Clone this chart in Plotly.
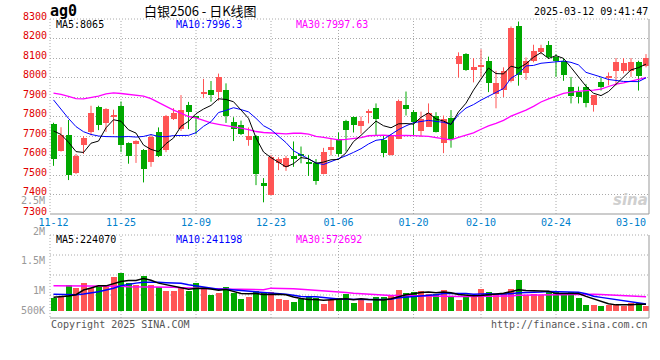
import plotly.graph_objects as go

W, H = 660, 360
def px(x): return x / W
def py(y): return 1 - y / H

# ---------------- data ----------------
tick_idx = [0, 9, 19, 29, 38, 48, 57, 67, 77]
tick_text = ["11-12", "11-25", "12-09", "12-23", "01-06", "01-20", "02-10", "02-24", "03-10"]
grid_idx = [9, 19, 29, 38, 48, 57, 67]
price_ticks = [7300, 7400, 7500, 7600, 7700, 7800, 7900, 8000, 8100, 8200, 8300]
vol_tick_text = ["2.5M", "2M", "1.5M", "1M", "500K"]

opens = [7760, 7625, 7703, 7512, 7653, 7718, 7850, 7765, 7802, 7855,
         7663, 7658, 7630, 7567, 7718, 7630, 7785, 7735, 7860, 7800,
         7916, 7937, 7924, 7935, 7774, 7754, 7680, 7700, 7461, 7400,
         7563, 7542, 7595, 7607, 7565, 7560, 7503, 7630, 7686, 7777,
         7795, 7751, 7822, 7842, 7677, 7603, 7686, 7858, 7822, 7726,
         7747, 7805, 7665, 7791, 8069, 8122, 8040, 8052, 8086, 7913,
         7938, 7983, 8262, 8021, 8083, 8131, 8165, 8103, 8086, 7953,
         7925, 7953, 7858, 7978, 8000, 8031, 8034, 8034, 8081, 8057]
highs = [7768, 7745, 7782, 7608, 7700, 7855, 7855, 7843, 7835, 7877,
         7667, 7678, 7633, 7708, 7744, 7808, 7843, 7910, 7875, 7803,
         7993, 7982, 8020, 7970, 7796, 7779, 7744, 7705, 7484, 7603,
         7591, 7598, 7672, 7646, 7603, 7582, 7639, 7684, 7718, 7783,
         7800, 7800, 7837, 7867, 7700, 7709, 7887, 7928, 7833, 7825,
         7867, 7822, 7805, 7833, 8129, 8125, 8100, 8145, 8107, 8034,
         8052, 8262, 8287, 8103, 8168, 8168, 8187, 8120, 8100, 8003,
         7953, 7967, 7908, 8000, 8026, 8100, 8100, 8100, 8086, 8120]
lows = [7547, 7620, 7474, 7505, 7608, 7703, 7730, 7721, 7709, 7617,
        7558, 7562, 7462, 7542, 7592, 7617, 7782, 7726, 7735, 7709,
        7894, 7876, 7881, 7767, 7674, 7705, 7650, 7448, 7360, 7397,
        7525, 7521, 7542, 7560, 7495, 7450, 7503, 7600, 7595, 7621,
        7718, 7712, 7765, 7704, 7591, 7600, 7684, 7805, 7700, 7695,
        7747, 7718, 7612, 7640, 8000, 8034, 7975, 8000, 7925, 7842,
        7900, 7975, 7958, 7988, 8078, 8119, 8095, 8003, 7983, 7867,
        7867, 7847, 7825, 7933, 7960, 7960, 8021, 8003, 7933, 8052]
closes = [7583, 7703, 7500, 7600, 7692, 7820, 7758, 7840, 7807, 7653,
          7600, 7675, 7533, 7695, 7597, 7805, 7817, 7835, 7822, 7793,
          7924, 7910, 8005, 7805, 7735, 7709, 7700, 7503, 7443, 7590,
          7582, 7589, 7586, 7600, 7560, 7467, 7618, 7646, 7607, 7730,
          7756, 7777, 7830, 7788, 7612, 7704, 7878, 7837, 7772, 7788,
          7817, 7721, 7786, 7683, 8112, 8040, 8055, 8066, 7970, 7970,
          8031, 8253, 8014, 8083, 8138, 8150, 8103, 8086, 8014, 7905,
          7900, 7870, 7908, 7953, 8009, 8081, 8072, 8081, 8009, 8100]
volumes = [544, 585, 1061, 952, 1142, 952, 1020, 1061, 1401, 1564,
           1156, 1061, 1442, 1061, 966, 830, 830, 966, 830, 1142,
           884, 653, 748, 979, 721, 490, 571, 830, 775, 775,
           490, 449, 367, 476, 558, 517, 286, 462, 544, 680,
           340, 449, 340, 558, 558, 612, 857, 734, 775, 816,
           707, 707, 857, 626, 449, 585, 585, 898, 775, 680,
           694, 898, 1265, 653, 680, 639, 816, 762, 666, 775,
           530, 245, 245, 204, 258, 299, 190, 340, 313, 218]  # thousands

# moving-average values at the left edge (need history before the window)
ma5_head = [7726, 7708, 7668, 7620]
ma10_head = [7885, 7835, 7790, 7748, 7722, 7708, 7700, 7697, 7695]
ma30_head = [7920, 7914, 7903, 7892, 7890, 7897, 7905, 7916, 7921, 7918,
             7913, 7910, 7905, 7892, 7872, 7850, 7833, 7817, 7800, 7793,
             7779, 7767, 7760, 7754, 7749, 7740, 7733, 7723, 7718]
vma5_head = [558, 571, 612, 666]
vma10_head = [680, 666, 653, 666, 694, 734, 789, 857, 925]
vma30_head = [1034, 1034, 1034, 1020, 1020, 1020, 1020, 1006, 1006, 1006,
              993, 993, 993, 979, 979, 966, 966, 952, 938, 925,
              911, 911, 898, 898, 884, 884, 870, 870, 870]

legend_main = ["MA5:8065", "MA10:7996.3", "MA30:7997.63"]
legend_vol = ["MA5:224070", "MA10:241198", "MA30:572692"]

# ---------------- helpers ----------------
n = len(closes)
idx = list(range(n))

def moving(vals, k, head):
    out = list(head)
    for i in range(len(head), len(vals)):
        out.append(sum(vals[i - k + 1:i + 1]) / k)
    return out

ma5 = moving(closes, 5, ma5_head)
ma10 = moving(closes, 10, ma10_head)
ma30 = moving(closes, 30, ma30_head)
vols = [v * 1000 for v in volumes]
vma5 = [v * 1000 for v in moving(volumes, 5, vma5_head)]
vma10 = [v * 1000 for v in moving(volumes, 10, vma10_head)]
vma30 = [v * 1000 for v in moving(volumes, 30, vma30_head)]

RED = "#ff5555"
GREEN = "#00a800"
up = [c >= o for o, c in zip(opens, closes)]
colors = [RED if u else GREEN for u in up]

fig = go.Figure()

# wicks
for col, flag in ((RED, True), (GREEN, False)):
    wx, wy = [], []
    for i in idx:
        if up[i] == flag:
            wx += [i, i, None]
            wy += [lows[i], highs[i], None]
    fig.add_trace(go.Scatter(x=wx, y=wy, mode="lines", line=dict(color=col, width=1),
                             hoverinfo="skip", xaxis="x", yaxis="y"))

# bodies
body_base = [min(o, c) for o, c in zip(opens, closes)]
body_h = [max(abs(c - o), 5) for o, c in zip(opens, closes)]
fig.add_trace(go.Bar(x=idx, y=body_h, base=body_base, width=0.8,
                     marker=dict(color=colors, line=dict(width=0)), xaxis="x", yaxis="y"))

for vals, col, w in ((ma30, "#ff00ff", 1.3), (ma10, "#0000ff", 1), (ma5, "#000000", 1)):
    fig.add_trace(go.Scatter(x=idx, y=vals, mode="lines", line=dict(color=col, width=w),
                             xaxis="x", yaxis="y"))

# volume
fig.add_trace(go.Bar(x=idx, y=vols, width=0.8, marker=dict(color=colors, line=dict(width=0)),
                     xaxis="x2", yaxis="y2"))
for vals, col in ((vma30, "#ff00ff"), (vma10, "#0000ff"), (vma5, "#000000")):
    fig.add_trace(go.Scatter(x=idx, y=vals, mode="lines", line=dict(color=col, width=1.5),
                             xaxis="x2", yaxis="y2"))

MONO = "DejaVu Sans Mono"
GRID = "#aaaaaa"
DOT = "1px,2px"
xdom = [px(50), px(649)]
xr = [-0.467, 79.4]

fig.update_layout(
    width=W, height=H, autosize=False, showlegend=False,
    margin=dict(l=0, r=0, t=0, b=0, pad=0),
    paper_bgcolor="white", plot_bgcolor="white",
    barmode="overlay", bargap=0,
    xaxis=dict(domain=xdom, range=xr, anchor="y", tickmode="array", tickvals=tick_idx,
               ticktext=tick_text, showgrid=False, zeroline=False, showline=False, ticks="",
               automargin=False, ticklabelstandoff=1,
               tickfont=dict(family=MONO, size=10, color="#0080cc"), fixedrange=True),
    yaxis=dict(domain=[py(214), py(19)], range=[7300, 8300], anchor="x", tickmode="array",
               tickvals=price_ticks, ticktext=[str(t) for t in price_ticks],
               showgrid=True, gridcolor=GRID, griddash=DOT, gridwidth=1, zeroline=False,
               ticks="", ticklabelshift=-3, ticklabelstandoff=2, automargin=False,
               tickfont=dict(family=MONO, size=10, color="#e00000"), fixedrange=True),
    xaxis2=dict(domain=xdom, range=xr, anchor="y2", matches="x", showticklabels=False,
                showgrid=False, zeroline=False, ticks="", automargin=False, fixedrange=True),
    yaxis2=dict(domain=[py(318), py(235)], range=[-285600, 3100800], anchor="x2",
                showticklabels=False, showgrid=False, zeroline=False, ticks="",
                automargin=False, fixedrange=True),
)

shapes = []
def hline(y, x0, x1, dash=None, color=GRID, layer="above"):
    shapes.append(dict(type="line", xref="paper", yref="paper", x0=px(x0), x1=px(x1),
                       y0=py(y), y1=py(y), layer=layer,
                       line=dict(color=color, width=1, dash=dash or "solid")))
def vline(x, y0, y1, dash=None, color=GRID, layer="above"):
    shapes.append(dict(type="line", xref="paper", yref="paper", x0=px(x), x1=px(x),
                       y0=py(y0), y1=py(y1), layer=layer,
                       line=dict(color=color, width=1, dash=dash or "solid")))

for g in grid_idx:
    for xa, ya in (("x", "y domain"), ("x2", "y2 domain")):
        shapes.append(dict(type="line", xref=xa, yref=ya, x0=g, x1=g, y0=0, y1=1, layer="below",
                           line=dict(color=GRID, width=1, dash=DOT)))
for y in (255, 275, 295):
    hline(y, 50, 649, DOT, layer="below")

# borders
hline(19, 50, 649, DOT)
vline(50, 19, 214, DOT)
vline(649, 19, 214, color="#999999")
hline(214, 50, 649, color="#999999")
hline(235, 50, 649, DOT)
vline(50, 235, 318, DOT)
vline(649, 235, 318, color="#999999")
hline(318, 50, 649, color="#999999")
fig.update_layout(shapes=shapes)

ann = []
def text(x, y, s, color="#000", size=10, family=MONO, xanchor="left"):
    ann.append(dict(x=px(x), y=py(y), xref="paper", yref="paper", text=s, showarrow=False,
                    xanchor=xanchor, yanchor="middle",
                    font=dict(family=family, size=size, color=color)))

text(48, 11, "<b>ag0</b>", size=15)
text(200, 10.5, "白银2506 - 日K线图", size=13, family="Noto Sans CJK SC", xanchor="center")
text(650, 12, "2025-03-12 09:41:47", size=10, xanchor="right")
ma_cols = ["#000000", "#0000ff", "#ff00ff"]
for s, c, x in zip(legend_main, ma_cols, (54, 174, 294)):
    text(x, 25, s, color=c)
for s, c, x in zip(legend_vol, ma_cols, (54, 174, 294)):
    text(x, 239, s, color=c)
for s, y in zip(vol_tick_text, (200.5, 231, 260.5, 290.5, 310)):
    text(47, y, s, color="#999999", xanchor="right")
text(49, 324, "Copyright 2025 SINA.COM", color="#555555")
text(650, 324, "http://finance.sina.com.cn", color="#555555", xanchor="right")
text(630, 200, "<b><i>sina</i></b>", color="#cfcfcf", size=15, family="DejaVu Sans", xanchor="center")
fig.update_layout(annotations=ann)

fig.write_html("out.html", config={"displayModeBar": False},
               post_script="document.body.style.margin='0px';document.body.style.padding='0px';")
